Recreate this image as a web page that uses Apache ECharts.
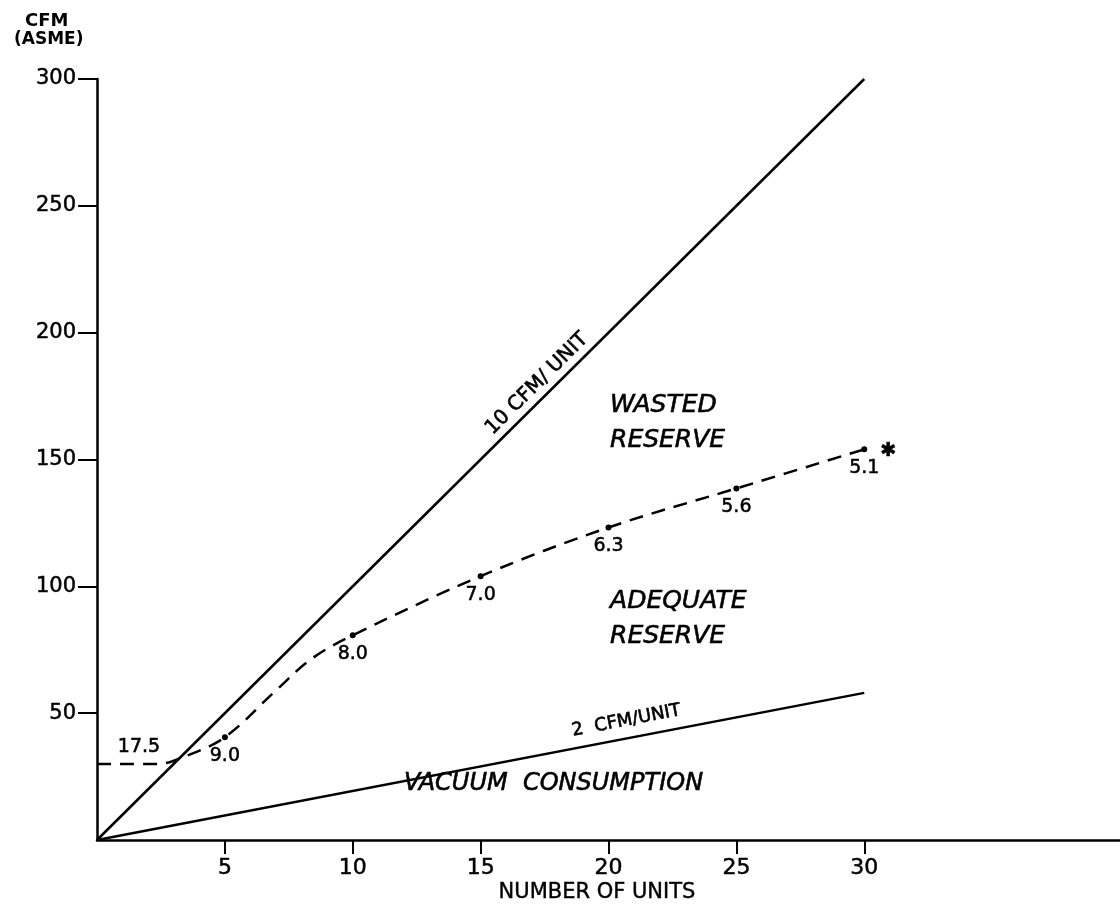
<!DOCTYPE html>
<html>
<head>
<meta charset="utf-8">
<script src="https://cdn.jsdelivr.net/npm/echarts@6/dist/echarts.min.js"></script>
<style>
html,body{margin:0;padding:0;background:#fff;}
#chart{width:1120px;height:913px;}
</style>
</head>
<body>
<div id="chart"></div>
<script>
// ---- data ----
const xTickValues = [5, 10, 15, 20, 25, 30];
const yTickValues = [50, 100, 150, 200, 250, 300];
const line10 = [[0, 0], [30, 300]];          // 10 CFM/UNIT
const line2 = [[0, 0], [30, 58]];            // 2 CFM/UNIT
const requiredCurve = [[0, 30], [2.4, 30], [3.4, 32.8], [5, 40.5], [7, 59], [8.4, 71.5], [10, 80.7], [15, 104], [20, 123.2], [25, 138.6], [30, 154]];
const markedUnits = [5, 10, 15, 20, 25, 30];
const markedCfm = [40.5, 80.7, 104, 123.2, 138.6, 154];
const perUnitLabels = ['9.0', '8.0', '7.0', '6.3', '5.6', '5.1'];
const annotations = [
  {text: 'WASTED', x: 20.06, y: 171.1, size: 25, italic: true, align: 'left', rot: 0},
  {text: 'RESERVE', x: 20.06, y: 157.3, size: 25, italic: true, align: 'left', rot: 0},
  {text: 'ADEQUATE', x: 20.06, y: 94.2, size: 25, italic: true, align: 'left', rot: 0},
  {text: 'RESERVE', x: 20.06, y: 80.4, size: 25, italic: true, align: 'left', rot: 0},
  {text: 'VACUUM  CONSUMPTION', x: 12.0, y: 22.1, size: 24, italic: true, align: 'left', rot: 0},
  {text: '10 CFM/ UNIT', x: 17.2, y: 179.8, size: 20, italic: false, align: 'center', rot: 44.8},
  {text: '2  CFM/UNIT', x: 20.7, y: 47.0, size: 18, italic: false, align: 'center', rot: 10.9},
  {text: '17.5', x: 1.64, y: 36.7, size: 19, italic: false, align: 'center', rot: 0},
  {text: '✱', x: 30.95, y: 153.3, size: 19, italic: false, align: 'center', rot: 0}
];

const FONT = 'DejaVu Sans';
const chart = echarts.init(document.getElementById('chart'));

const option = {
  backgroundColor: '#ffffff',
  animation: false,
  textStyle: {fontFamily: FONT, color: '#000'},
  grid: {left: 97, right: 0, top: 79, bottom: 73, containLabel: false},
  xAxis: {
    type: 'value', min: 0, max: 40, interval: 5,
    axisLine: {show: true, onZero: false, lineStyle: {color: '#000', width: 2.5}},
    axisTick: {show: true, length: 14, customValues: xTickValues, lineStyle: {color: '#000', width: 2}},
    axisLabel: {customValues: xTickValues, color: '#000', fontFamily: FONT, fontSize: 22, margin: 17,
      textBorderColor: '#000', textBorderWidth: 0.5},
    splitLine: {show: false}
  },
  yAxis: {
    type: 'value', min: 0, max: 300, interval: 50,
    axisLine: {show: true, onZero: false, lineStyle: {color: '#000', width: 2.5}},
    axisTick: {show: true, length: 19, customValues: yTickValues, lineStyle: {color: '#000', width: 2}},
    axisLabel: {customValues: yTickValues, color: '#000', fontFamily: FONT, fontSize: 21, margin: 21,
      textBorderColor: '#000', textBorderWidth: 0.5},
    splitLine: {show: false}
  },
  graphic: [
    {type: 'text', left: 25, top: 12, style: {text: 'CFM', font: 'bold 18px "DejaVu Sans"', fill: '#000'}},
    {type: 'text', left: 14, top: 31, style: {text: '(ASME)', font: 'bold 17px "DejaVu Sans"', fill: '#000'}},
    {type: 'text', x: 597, y: 893, style: {text: 'NUMBER OF UNITS', font: '21px "DejaVu Sans"', fill: '#000',
      stroke: '#000', lineWidth: 0.4, align: 'center', verticalAlign: 'middle'}}
  ],
  series: [
    {
      type: 'line', data: line10, showSymbol: false, symbol: 'none',
      lineStyle: {color: '#000', width: 2.5}, z: 3
    },
    {
      type: 'line', data: line2, showSymbol: false, symbol: 'none',
      lineStyle: {color: '#000', width: 2.5}, z: 3
    },
    {
      type: 'line', data: requiredCurve, showSymbol: false, symbol: 'none',
      smooth: 0.35,
      lineStyle: {color: '#000', width: 2.5, type: [14, 9]}, z: 3
    },
    {
      type: 'scatter',
      data: markedUnits.map((u, i) => ({value: [u, markedCfm[i]], name: perUnitLabels[i]})),
      symbol: 'circle', symbolSize: 6,
      itemStyle: {color: '#000', opacity: 1},
      label: {
        show: true, position: 'bottom', distance: 6,
        formatter: p => p.name, color: '#000', fontFamily: FONT, fontSize: 19,
        textBorderColor: '#000', textBorderWidth: 0.5
      },
      z: 4
    },
    {
      type: 'scatter',
      data: annotations.map(a => ({
        value: [a.x, a.y],
        label: {
          show: true, position: 'inside', formatter: a.text,
          fontSize: a.size, fontStyle: a.italic ? 'italic' : 'normal',
          align: a.align, verticalAlign: 'middle', rotate: a.rot,
          color: '#000', fontFamily: FONT,
          textBorderColor: '#000', textBorderWidth: 0.6
        }
      })),
      symbolSize: 0,
      itemStyle: {color: 'rgba(0,0,0,0)', opacity: 1},
      silent: true, z: 5
    }
  ]
};
chart.setOption(option);
</script>
</body>
</html>
